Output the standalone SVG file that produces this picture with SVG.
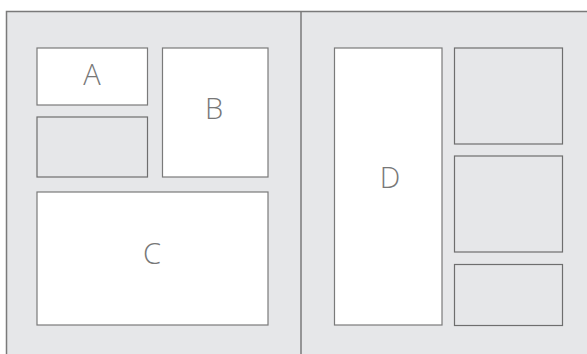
<svg xmlns="http://www.w3.org/2000/svg" width="587" height="354" viewBox="0 0 587 354">
<style>
.bg{fill:#e6e7e9;stroke:#7a7a7a;stroke-width:1.5}
.w{fill:#ffffff;stroke:#7a7a7a;stroke-width:1.2}
.g{fill:#e6e7e9;stroke:#6e6e6e;stroke-width:1.2}
.t{font-family:"Open Sans","Noto Sans",sans-serif;font-weight:300;font-size:29px;fill:#777777;text-anchor:middle}
</style>
<rect width="587" height="354" fill="#ffffff"/>
<g id="frame">
<rect class="bg" x="6.5" y="11.5" width="590" height="350"/>
<line x1="301" y1="11.5" x2="301" y2="354" stroke="#7a7a7a" stroke-width="1.5"/>
</g>
<g id="connectors"></g>
<g id="A"><rect class="w" x="37" y="48" width="110.5" height="57"/><text class="t" x="92" y="85">A</text></g>
<g id="E"><rect class="g" x="37" y="117" width="110.5" height="60"/></g>
<g id="B"><rect class="w" x="162.5" y="48" width="105.5" height="129"/><text class="t" x="214" y="119">B</text></g>
<g id="C"><rect class="w" x="37" y="192" width="231" height="133"/><text class="t" x="152" y="264">C</text></g>
<g id="D"><rect class="w" x="334.5" y="48" width="107.5" height="277"/><text class="t" x="390" y="188">D</text></g>
<g id="F"><rect class="g" x="454.5" y="48" width="108" height="96"/></g>
<g id="G"><rect class="g" x="454.5" y="156" width="108" height="96"/></g>
<g id="H"><rect class="g" x="454.5" y="264.5" width="108" height="61"/></g>
</svg>
